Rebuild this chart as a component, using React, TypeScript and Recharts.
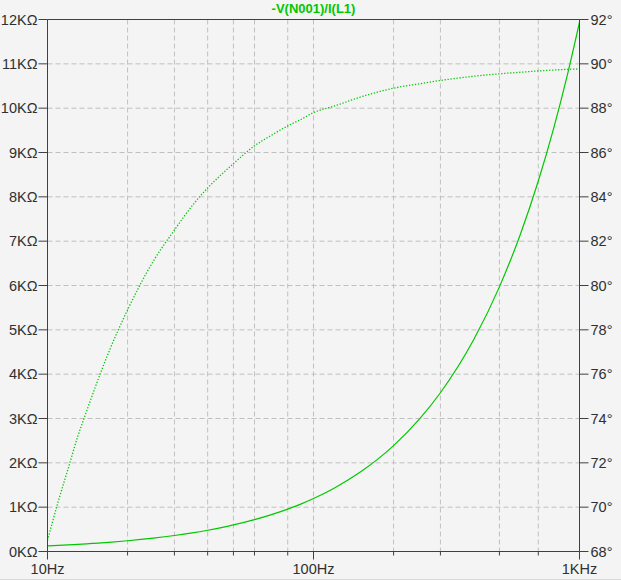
import { LineChart, Line, XAxis, YAxis, CartesianGrid, ReferenceLine } from "recharts";

const freqs = [10, 11, 12, 13, 14, 15, 17, 20, 25, 30, 35, 40, 45, 50, 60, 70, 80, 90, 100, 120, 150, 200, 250, 300, 400, 500, 600, 700, 800, 900, 1000];
const magnitude = [128, 139, 151, 162, 174, 185, 208, 243, 302, 361, 420, 480, 539, 599, 718, 837, 956, 1075, 1195, 1433, 1791, 2388, 2985, 3581, 4775, 5969, 7163, 8357, 9550, 10744, 11938];
const phase = [68.5, 70.3, 71.8, 73.2, 74.3, 75.3, 77.0, 78.9, 81.1, 82.5, 83.6, 84.4, 85.0, 85.5, 86.3, 86.8, 87.2, 87.5, 87.8, 88.1, 88.5, 88.9, 89.1, 89.25, 89.44, 89.55, 89.62, 89.68, 89.72, 89.75, 89.77];

const xTicks = [10, 20, 30, 40, 50, 60, 70, 80, 90, 100, 200, 300, 400, 500, 600, 700, 800, 900, 1000];
const xLabels: Record<number, string> = { 10: "10Hz", 100: "100Hz", 1000: "1KHz" };
const magTicks = [0, 1000, 2000, 3000, 4000, 5000, 6000, 7000, 8000, 9000, 10000, 11000, 12000];
const phaseTicks = [68, 70, 72, 74, 76, 78, 80, 82, 84, 86, 88, 90, 92];

const data = freqs.map((f, i) => ({ f, mag: magnitude[i], phase: phase[i] }));

const axisColor = "#404040";
const textColor = "#303030";
const green = "#00c800";
const font = "'Liberation Sans', Arial, sans-serif";

const XTick = (props: any) => {
  const { x, y, payload } = props;
  const label = xLabels[payload.value];
  return (
    <g>
      <line x1={x} x2={x} y1={y} y2={label ? y + 8 : y + 4} stroke={axisColor} />
      {label && (
        <text x={x} y={y + 22} textAnchor="middle" fill={textColor} fontSize={14.5} fontFamily={font}>
          {label}
        </text>
      )}
    </g>
  );
};

export default function App() {
  return (
    <div style={{ position: "absolute", top: 0, left: 0, width: 621, height: 583, background: "#fff" }}>
      <div style={{ position: "relative", width: 621, height: 579, background: "#f4f4f4", borderBottom: "1px solid #d9d9d9" }}>
        <LineChart width={621} height={579} data={data} margin={{ top: 19.5, right: 0, left: 0, bottom: 0 }}>
          <CartesianGrid yAxisId="left" stroke="#c0c0c0" strokeDasharray="5 3" />
          <XAxis
            dataKey="f"
            type="number"
            scale="log"
            domain={[10, 1000]}
            ticks={xTicks}
            height={27.5}
            stroke={axisColor}
            tickLine={false}
            tickSize={0}
            tickMargin={0}
            tick={<XTick />}
            allowDataOverflow
          />
          <YAxis
            yAxisId="left"
            domain={[0, 12000]}
            ticks={magTicks}
            width={47.5}
            stroke={axisColor}
            tickSize={9}
            tickMargin={1}
            tickFormatter={(v: number) => `${v / 1000}KΩ`}
            tick={{ fill: textColor, fontSize: 14.5, fontFamily: font }}
            interval={0}
          />
          <YAxis
            yAxisId="right"
            orientation="right"
            domain={[68, 92]}
            ticks={phaseTicks}
            width={41.5}
            stroke={axisColor}
            tickSize={9}
            tickMargin={2}
            tickFormatter={(v: number) => `${v}°`}
            tick={{ fill: textColor, fontSize: 14.5, fontFamily: font }}
            interval={0}
          />
          <ReferenceLine yAxisId="left" y={12000} stroke={axisColor} />
          <Line yAxisId="left" type="monotone" dataKey="mag" stroke={green} strokeWidth={1.2} dot={false} isAnimationActive={false} />
          <Line yAxisId="right" type="monotone" dataKey="phase" stroke={green} strokeWidth={1.3} strokeDasharray="1.3 1.7" dot={false} isAnimationActive={false} />
        </LineChart>
        <div
          style={{
            position: "absolute",
            left: 47.5,
            width: 532,
            top: 1,
            textAlign: "center",
            color: green,
            fontFamily: font,
            fontWeight: "bold",
            fontSize: 13,
            lineHeight: "15px",
          }}
        >
          -V(N001)/I(L1)
        </div>
      </div>
    </div>
  );
}
